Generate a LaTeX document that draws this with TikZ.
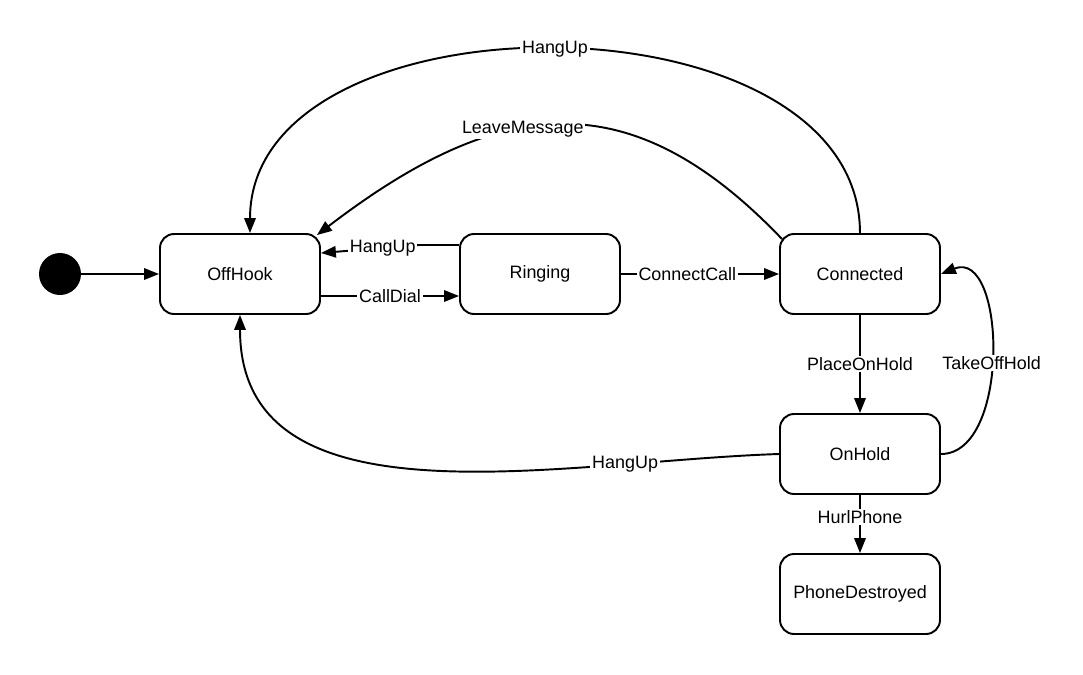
\documentclass[tikz,border=0pt]{standalone}
\usepackage{fontspec}
\setmainfont{Liberation Sans}
\usetikzlibrary{arrows.meta,positioning,calc}

\tikzset{
  state/.style={draw, line width=1.1pt, rounded corners=0.28cm, minimum width=3.2cm, minimum height=1.6cm},
  lbl/.style={fill=white, inner sep=1pt},
  arr/.style={line width=1.1pt, -{Triangle[length=8.5pt,width=6.5pt]}}
}

\begin{document}
\begin{tikzpicture}[x=0.02cm, y=-0.02cm, font=\fontsize{10.2pt}{12pt}\selectfont]
        \useasboundingbox (0,0) rectangle (1083,674);

        % states
        \node[circle, fill=black, minimum size=0.84cm, inner sep=0pt] (init) at (60,274) {};
        \node[state] (offhook) at (240,274) {OffHook};
        \node[state] (ringing) at (540,274) {Ringing};
        \node[state] (connected) at (860,274) {Connected};
        \node[state] (onhold) at (860,454) {OnHold};
        \node[state] (destroyed) at (860,594) {PhoneDestroyed};

        % transitions
        \draw[arr] (init) -- (offhook);
        \draw[arr] ([shift={(0,22)}]offhook.east) -- node[lbl] {CallDial} ([shift={(0,22)}]ringing.west);
        \draw[arr] ([shift={(0,-29)}]ringing.west) -- ++(-40,0) -- node[lbl, pos=0.37] {HangUp} ([shift={(0,-21)}]offhook.east);
        \draw[arr] (ringing) -- node[lbl, pos=0.42] {ConnectCall} (connected);
        \draw[arr] (connected) -- node[lbl] {PlaceOnHold} (onhold);
        \draw[arr] (onhold) -- node[lbl, pos=0.38] {HurlPhone} (destroyed);
        \draw[arr] (connected.north) to[out=90, in=90, looseness=1.03] node[lbl] {HangUp} ([shift={(10,0)}]offhook.north);
        \draw[arr] ([shift={(3,6)}]connected.north west) .. controls (630,80) and (500,95) .. node[lbl, pos=0.585] {LeaveMessage} ([shift={(-4,2)}]offhook.north east);
        \draw[arr] (onhold.east) to[out=0, in=22] node[lbl, pos=0.47] {TakeOffHold} (connected.east);
        \draw[arr] (onhold.west) .. controls (562,461) and (240,532) .. node[lbl, pos=0.22] {HangUp} (offhook.south);
    \end{tikzpicture}
\end{document}
